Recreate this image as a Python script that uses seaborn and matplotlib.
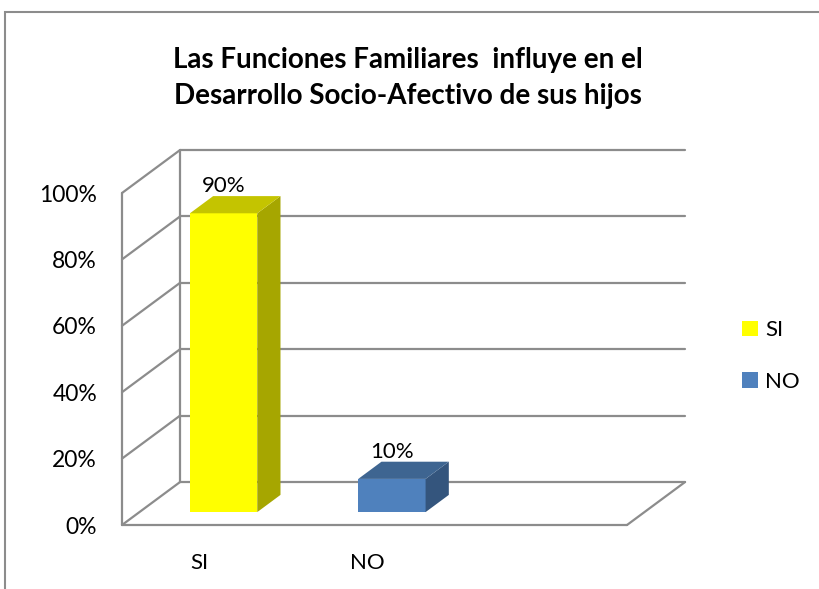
import matplotlib
matplotlib.use("Agg")
import matplotlib.pyplot as plt
import seaborn as sns
import pandas as pd
from matplotlib.patches import Polygon, Rectangle

# datos del grafico
categorias = ["SI", "NO"]
porcentajes = [90, 10]
etiquetas = ["90%", "10%"]
ticks_y = [0, 20, 40, 60, 80, 100]
ticks_txt = ["0%", "20%", "40%", "60%", "80%", "100%"]
titulo = "Las Funciones Familiares  influye en el\nDesarrollo Socio-Afectivo de sus hijos"

# colores de las caras (frente, lado, techo)
frente = ["#FFFF00", "#4F81BD"]
lado = ["#A6A600", "#34557D"]
techo = ["#C4C400", "#3E6591"]
gris = "#8C8C8C"

sns.set_theme(style="white")
plt.rcParams["font.family"] = ["Lato", "DejaVu Sans"]
plt.rcParams["text.color"] = "black"

df = pd.DataFrame({"cat": categorias, "pct": porcentajes})

fig = plt.figure(figsize=(8.2, 5.89), dpi=100)
ax = fig.add_axes([122 / 820, 64 / 589, 505 / 820, 332 / 589])

sns.barplot(data=df, x="cat", y="pct", hue="cat", palette=frente,
            saturation=1, width=0.4, ax=ax, zorder=3, legend=False)

ax.set_xlim(-0.5, 2.5)
ax.set_ylim(0, 100)

# vector de profundidad (en unidades de datos)
DX, DY = 0.345, 12.95
f0, prof = 0.3, 0.4

# paredes y lineas de division
lw = 1.6
for t in ticks_y:
    ax.plot([-0.5, -0.5 + DX], [t, t + DY], color=gris, lw=lw, clip_on=False, zorder=1)
    ax.plot([-0.5 + DX, 2.5 + DX], [t + DY, t + DY], color=gris, lw=lw, clip_on=False, zorder=1)
ax.plot([-0.5 + DX] * 2, [DY, 100 + DY], color=gris, lw=lw, clip_on=False, zorder=1)
ax.plot([-0.5, -0.5], [0, 100], color=gris, lw=lw, clip_on=False, zorder=1)
ax.plot([-0.5, 2.5], [0, 0], color=gris, lw=lw, clip_on=False, zorder=1)
ax.plot([2.5, 2.5 + DX], [0, DY], color=gris, lw=lw, clip_on=False, zorder=1)

# barras en 3D
barras = list(ax.patches[:len(categorias)])
for i, p in enumerate(barras):
    x0 = p.get_x() + f0 * DX
    y0 = f0 * DY
    w, h = p.get_width(), p.get_height()
    p.set_x(x0)
    p.set_y(y0)
    p.set_linewidth(0)
    ex, ey = prof * DX, prof * DY
    ax.add_patch(Polygon([(x0 + w, y0), (x0 + w + ex, y0 + ey),
                          (x0 + w + ex, y0 + h + ey), (x0 + w, y0 + h)],
                         closed=True, fc=lado[i], ec="none", zorder=3, clip_on=False))
    ax.add_patch(Polygon([(x0, y0 + h), (x0 + w, y0 + h),
                          (x0 + w + ex, y0 + h + ey), (x0 + ex, y0 + h + ey)],
                         closed=True, fc=techo[i], ec="none", zorder=3, clip_on=False))
    ax.text(x0 + w / 2, y0 + h + ey, etiquetas[i], ha="center", va="bottom",
            fontsize=16, color="black", zorder=4)

for s in ax.spines.values():
    s.set_visible(False)
ax.set_yticks(ticks_y)
ax.set_yticklabels(ticks_txt, fontsize=16.5)
ax.set_xticks([-0.04, 0.96])
ax.set_xticklabels(categorias, fontsize=16)
ax.tick_params(axis="y", length=0, pad=18, labelcolor="black")
ax.tick_params(axis="x", length=0, pad=20, labelcolor="black")
ax.set_xlabel("")
ax.set_ylabel("")

ax.legend(barras, categorias, loc="center left", bbox_to_anchor=(722 / 820, 1 - 356 / 589),
          bbox_transform=fig.transFigure, frameon=False, fontsize=16,
          handlelength=0.7, handleheight=0.7, handletextpad=0.35, labelspacing=1.4,
          labelcolor="black")

fig.text(408 / 820, 1 - 78 / 589, titulo, ha="center", va="center",
         fontsize=20, fontweight="bold", linespacing=1.45, color="black")

# marco del area del grafico
fig.patches.append(Rectangle((5 / 820, -0.05), 1.0, 1.05 - 12 / 589,
                             transform=fig.transFigure, fill=False,
                             ec=gris, lw=1.5, zorder=0))

fig.savefig("out.png", dpi=100)
